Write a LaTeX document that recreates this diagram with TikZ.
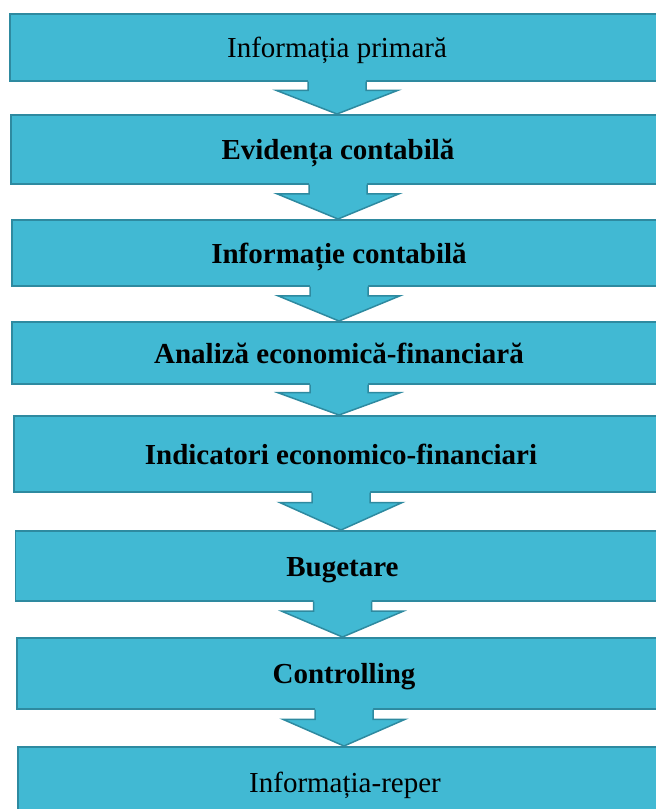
\documentclass[tikz,border=0pt]{standalone}
\usepackage{fontspec}
\setmainfont{Liberation Serif}
\usetikzlibrary{calc}

\definecolor{bleu}{HTML}{41B9D3}
\definecolor{contur}{HTML}{2E8AA0}

%% sageata-bloc in jos: #1 = etapa de sus, #2 = etapa de jos
\newcommand{\sageata}[2]{%
  \coordinate (s0) at (#1.south);
  \coordinate (s2) at (#1.south |- #2.north);
  \coordinate (s1) at ($(s0)!0.27!(s2)$);
  \fill[bleu] ([xshift=-29pt,yshift=2pt]s0) -- ([xshift=-29pt]s1)
    -- ([xshift=-61pt]s1) -- (s2) -- ([xshift=61pt]s1)
    -- ([xshift=29pt]s1) -- ([xshift=29pt,yshift=2pt]s0) -- cycle;
  \draw[margine] ([xshift=-29pt]s0) -- ([xshift=-29pt]s1)
    -- ([xshift=-61pt]s1) -- (s2) -- ([xshift=61pt]s1)
    -- ([xshift=29pt]s1) -- ([xshift=29pt]s0);
}

\begin{document}
\begin{tikzpicture}[
    x=1pt, y=-1pt,
    margine/.style={draw=contur, line width=1.5pt},
    etapa/.style={
        margine, fill=bleu, rectangle, anchor=north,
        minimum width=654pt, inner sep=0pt,
        font=\fontsize{29}{34}\selectfont,
        text height=22pt, text depth=1pt
    },
    tare/.style={font=\fontsize{29}{34}\selectfont\bfseries}
]
\useasboundingbox (0,0) rectangle (656,809);
\clip (0,0) rectangle (656,809);

%% ── Etapele fluxului informational ─────────────────────────────
\node[etapa, minimum height=67pt] (e1) at (337,13) {Informația primară};
\node[etapa, tare, minimum height=69pt] (e2) at (338,114) {Evidența contabilă};
\node[etapa, tare, minimum height=66pt] (e3) at (339,219) {Informație contabilă};
\node[etapa, tare, minimum height=62pt] (e4) at (339,321) {Analiză economică-financiară};
\node[etapa, tare, minimum height=76pt] (e5) at (341,415) {Indicatori economico-financiari};
\node[etapa, tare, minimum height=70pt] (e6) at (342.5,530) {Bugetare};
\node[etapa, tare, minimum height=71pt] (e7) at (344,637) {Controlling};
\node[etapa, minimum height=70pt] (e8) at (345,746) {Informația-reper};

%% ── Sagetile dintre etape ──────────────────────────────────────
\sageata{e1}{e2}
\sageata{e2}{e3}
\sageata{e3}{e4}
\sageata{e4}{e5}
\sageata{e5}{e6}
\sageata{e6}{e7}
\sageata{e7}{e8}

\end{tikzpicture}
\end{document}
